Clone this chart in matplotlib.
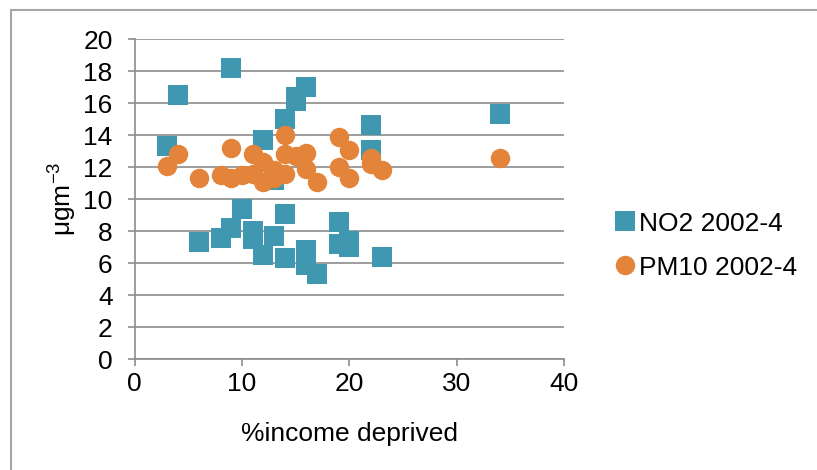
import matplotlib
matplotlib.use('Agg')
import matplotlib.pyplot as plt
from matplotlib.lines import Line2D

# NO2 2002-4 (squares)
no2_x = [3, 4, 6, 8, 9, 9, 10, 11, 11, 12, 12, 13, 13, 14, 14, 14, 15, 15,
         16, 16, 16, 17, 19, 19, 20, 20, 22, 22, 23, 34]
no2_y = [13.3, 16.5, 7.3, 7.6, 18.2, 8.2, 9.4, 8.0, 7.5, 13.7, 6.5, 7.7, 11.2,
         15.0, 9.1, 6.3, 16.1, 16.4, 17.0, 6.8, 5.9, 5.3, 8.6, 7.2, 7.4, 7.0,
         14.6, 13.1, 6.4, 15.3]

# PM10 2002-4 (circles)
pm10_x = [3, 4, 6, 8, 9, 9, 10, 11, 11, 12, 12, 13, 13, 14, 14, 14, 15, 16,
          16, 17, 19, 19, 20, 20, 22, 22, 23, 34]
pm10_y = [12.1, 12.8, 11.3, 11.5, 13.2, 11.3, 11.5, 12.8, 11.6, 12.3, 11.1,
          11.8, 11.3, 14.0, 12.8, 11.6, 12.7, 12.9, 11.9, 11.1, 13.9, 12.0,
          13.1, 11.3, 12.6, 12.2, 11.8, 12.6]

x_ticks = [0, 10, 20, 30, 40]
y_ticks = list(range(0, 21, 2))

plt.rcParams['font.family'] = ['Liberation Sans', 'DejaVu Sans']
fs = 19
grey = '#8c8c8c'

fig = plt.figure(figsize=(8.17, 4.70), dpi=100)
ax = fig.add_axes([0.1649, 0.2355, 0.5254, 0.6815])

ax.plot(no2_x, no2_y, linestyle='none', marker='s', markersize=14.5,
        markeredgewidth=0, color='#4098b0', label='NO2 2002-4', zorder=3)
ax.plot(pm10_x, pm10_y, linestyle='none', marker='o', markersize=14,
        markeredgewidth=0, color='#e3843a', label='PM10 2002-4', zorder=4)

ax.set_xlim(0, 40)
ax.set_ylim(0, 20)
ax.set_xticks(x_ticks)
ax.set_yticks(y_ticks)
ax.tick_params(axis='both', labelsize=fs, colors=grey, labelcolor='black',
               length=5, width=1.2)
ax.tick_params(axis='x', pad=4)
ax.tick_params(axis='y', pad=11)
ax.yaxis.grid(True, color=grey, linewidth=1.2)
ax.set_axisbelow(True)
for s in ['top', 'right']:
    ax.spines[s].set_visible(False)
for s in ['left', 'bottom']:
    ax.spines[s].set_color(grey)
    ax.spines[s].set_linewidth(1.2)

ax.set_xlabel('%income deprived', fontsize=fs, labelpad=19)
ax.set_ylabel('μgm$^{\\mathregular{-3}}$', fontsize=fs, labelpad=4)

leg = ax.legend(loc='center left', bbox_to_anchor=(1.1235, 0.355), frameon=False,
                fontsize=fs, handlelength=0.6, handletextpad=0.25,
                labelspacing=0.75, borderpad=0, borderaxespad=0)

# outer chart border (top and left edges visible)
fig.add_artist(Line2D([11 / 817, 1.0], [1 - 10 / 470, 1 - 10 / 470],
                      transform=fig.transFigure, color='#a6a6a6', linewidth=1.5))
fig.add_artist(Line2D([11 / 817, 11 / 817], [0.0, 1 - 10 / 470],
                      transform=fig.transFigure, color='#a6a6a6', linewidth=1.5))

fig.savefig('out.png', dpi=100)
